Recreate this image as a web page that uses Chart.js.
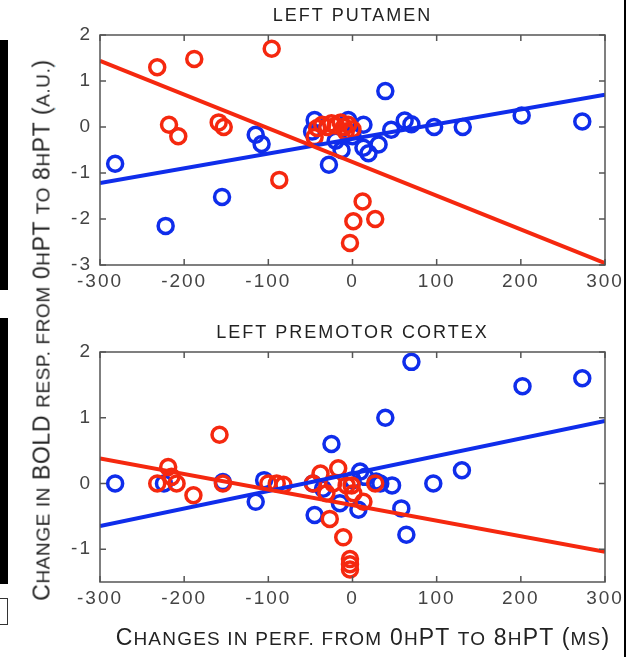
<!DOCTYPE html>
<html>
<head>
<meta charset="utf-8">
<script src="https://cdn.jsdelivr.net/npm/chart.js@4.4.1/dist/chart.umd.min.js"></script>
<style>
  body { margin: 0; background: #fff; width: 633px; height: 657px; position: relative; overflow: hidden;
         font-family: "Liberation Sans", Arial, sans-serif; }
  .wrap { position: absolute; left: 0; width: 633px; }
  #topWrap { top: 0; height: 310px; }
  #bottomWrap { top: 310px; height: 347px; }
  .axlabel { position: absolute; white-space: nowrap; font-size: 23px; letter-spacing: 1.2px; color: #222; }
  .axlabel .sc { font-size: 19px; }
  #ylabel { left: 42px; top: 330px; transform: translate(-50%, -50%) rotate(-90deg); letter-spacing: 0.6px; }
  #xlabel { left: 363px; top: 637px; transform: translate(-50%, -50%); }
  .deco { position: absolute; }
</style>
</head>
<body>
<div class="deco" style="left:0;top:40px;width:8px;height:250px;background:#000"></div>
<div class="deco" style="left:0;top:318px;width:8px;height:266px;background:#000"></div>
<div class="deco" style="left:0;top:598px;width:7px;height:25px;border:1px solid #333;border-left:none"></div>
<div class="deco" style="left:624px;top:0;width:2px;height:657px;background:#000"></div>

<div class="wrap" id="topWrap"><canvas id="chartPutamen"></canvas></div>
<div class="wrap" id="bottomWrap"><canvas id="chartPremotor"></canvas></div>
<div class="axlabel" id="ylabel">C<span class="sc">HANGE IN</span> BOLD <span class="sc">RESP. FROM</span> 0<span class="sc">H</span>PT <span class="sc">TO</span> 8<span class="sc">H</span>PT (<span class="sc">A.U.</span>)</div>
<div class="axlabel" id="xlabel">C<span class="sc">HANGES IN PERF. FROM</span> 0<span class="sc">H</span>PT <span class="sc">TO</span> 8<span class="sc">H</span>PT (<span class="sc">MS</span>)</div>

<script>
// x axis (ms), shared by both panels
const xTicks = [-300, -200, -100, 0, 100, 200, 300];
const fitX = [-300, 300];

// left putamen
const putamenBlueX = [-282, -222, -155, -115, -108, -48, -45, -28, -20, -13, -5, 0, 13, 13, 19, 31, 39, 46, 62, 70, 97, 131, 201, 273];
const putamenBlueY = [-0.8, -2.15, -1.52, -0.17, -0.37, -0.1, 0.15, -0.82, -0.3, -0.5, 0.15, -0.2, 0.05, -0.45, -0.57, -0.38, 0.78, -0.06, 0.14, 0.06, 0.0, 0.0, 0.25, 0.12];
const putamenRedX = [-232, -188, -96, -218, -207, -159, -153, -87, 12, 1, 27, -3, -42, -36, -30, -25, -20, -14, -10, -5, -8, -45, 0];
const putamenRedY = [1.3, 1.48, 1.7, 0.05, -0.2, 0.1, 0.0, -1.15, -1.62, -2.05, -2.0, -2.52, -0.02, 0.05, 0.0, 0.08, 0.03, 0.1, 0.0, 0.05, -0.1, -0.22, -0.05];
const putamenBlueFit = [-1.22, 0.70];
const putamenRedFit = [1.44, -2.96];
const putamenYTicks = [-3, -2, -1, 0, 1, 2];

// left premotor cortex
const premotorBlueX = [-282, -224, -154, -105, -115, -47, -45, -25, -35, -15, 0, 7, 9, 15, 28, 33, 39, 47, 58, 64, 70, 96, 130, 202, 273];
const premotorBlueY = [0, 0, 0.02, 0.05, -0.28, 0, -0.48, 0.6, -0.08, -0.3, 0.05, -0.4, 0.18, 0.1, 0.03, 0, 1.0, -0.03, -0.38, -0.78, 1.85, 0, 0.2, 1.48, 1.6];
const premotorRedX = [-232, -219, -215, -209, -189, -158, -154, -100, -90, -82, -47, -38, -31, -23, -17, -27, -11, -7, 1, -1, 13, 27, -3, -3, -3];
const premotorRedY = [0, 0.25, 0.1, 0, -0.18, 0.74, 0, 0, 0, -0.02, 0, 0.15, -0.15, 0, 0.23, -0.54, -0.82, -0.03, -0.15, -0.03, -0.28, 0, -1.15, -1.23, -1.31];
const premotorBlueFit = [-0.65, 0.95];
const premotorRedFit = [0.38, -1.04];
const premotorYTicks = [-1, 0, 1, 2];

const BLUE = 'rgb(15,45,235)';
const RED = 'rgb(245,40,15)';
const FONT = '"Liberation Sans", Arial, sans-serif';

function pts(xs, ys) {
    return xs.map((x, i) => ({x: x, y: ys[i]}));
}

// wider letter spacing, like the upscaled matlab text
const spacingPlugin = {
    id: 'spacing',
    beforeUpdate(chart) { chart.ctx.letterSpacing = '2px'; },
    beforeDraw(chart) { chart.ctx.letterSpacing = '2px'; }
};

// matlab style box with inward ticks
const framePlugin = {
    id: 'frame',
    afterDatasetsDraw(chart) {
        const {ctx, chartArea: a} = chart;
        const x = chart.scales.x, y = chart.scales.y;
        ctx.save();
        ctx.strokeStyle = '#555';
        ctx.lineWidth = 1.5;
        ctx.strokeRect(a.left, a.top, a.right - a.left, a.bottom - a.top);
        ctx.beginPath();
        x.ticks.forEach(t => {
            const px = x.getPixelForValue(t.value);
            ctx.moveTo(px, a.bottom); ctx.lineTo(px, a.bottom - 6);
            ctx.moveTo(px, a.top); ctx.lineTo(px, a.top + 6);
        });
        y.ticks.forEach(t => {
            const py = y.getPixelForValue(t.value);
            ctx.moveTo(a.left, py); ctx.lineTo(a.left + 6, py);
            ctx.moveTo(a.right, py); ctx.lineTo(a.right - 6, py);
        });
        ctx.stroke();
        ctx.restore();
    }
};

function makeChart(id, title, titlePad, d) {
    const ring = {
        type: 'scatter', showLine: false, pointStyle: 'circle',
        pointRadius: 7.5, pointBorderWidth: 3.5, pointBackgroundColor: 'rgba(0,0,0,0)'
    };
    const fit = {type: 'line', pointRadius: 0, borderWidth: 4, fill: false, tension: 0};
    return new Chart(document.getElementById(id), {
        data: {
            datasets: [
                Object.assign({}, fit, {data: pts(fitX, d.redFit), borderColor: RED}),
                Object.assign({}, fit, {data: pts(fitX, d.blueFit), borderColor: BLUE}),
                Object.assign({}, ring, {data: pts(d.redX, d.redY), pointBorderColor: RED}),
                Object.assign({}, ring, {data: pts(d.blueX, d.blueY), pointBorderColor: BLUE})
            ]
        },
        options: {
            responsive: true,
            maintainAspectRatio: false,
            animation: false,
            layout: {padding: {left: 0, right: 28, top: 0, bottom: 0}},
            plugins: {
                legend: {display: false},
                tooltip: {enabled: false},
                title: {
                    display: true, text: title, fullSize: false, color: '#222',
                    font: {family: FONT, size: 18, weight: 'normal', lineHeight: 1.2},
                    padding: titlePad
                }
            },
            scales: {
                x: {
                    type: 'linear', min: -300, max: 300,
                    afterBuildTicks: s => { s.ticks = xTicks.map(v => ({value: v})); },
                    afterFit: s => { s.height = d.xHeight; },
                    grid: {display: false, drawTicks: false},
                    border: {display: false},
                    ticks: {font: {family: FONT, size: 19}, color: '#444', padding: 5, maxRotation: 0}
                },
                y: {
                    type: 'linear', min: d.yMin, max: d.yMax,
                    afterBuildTicks: s => { s.ticks = d.yTicks.map(v => ({value: v})); },
                    afterFit: s => { s.width = 100; },
                    grid: {display: false, drawTicks: false},
                    border: {display: false},
                    ticks: {font: {family: FONT, size: 19}, color: '#444', padding: 8}
                }
            }
        },
        plugins: [spacingPlugin, framePlugin]
    });
}

document.addEventListener('DOMContentLoaded', function() {
    makeChart('chartPutamen', 'LEFT PUTAMEN', {top: 5, bottom: 8.4}, {
        blueX: putamenBlueX, blueY: putamenBlueY, redX: putamenRedX, redY: putamenRedY,
        blueFit: putamenBlueFit, redFit: putamenRedFit,
        yMin: -3, yMax: 2, yTicks: putamenYTicks, xHeight: 45
    });
    makeChart('chartPremotor', 'LEFT PREMOTOR CORTEX', {top: 12, bottom: 8.4}, {
        blueX: premotorBlueX, blueY: premotorBlueY, redX: premotorRedX, redY: premotorRedY,
        blueFit: premotorBlueFit, redFit: premotorRedFit,
        yMin: -1.5, yMax: 2, yTicks: premotorYTicks, xHeight: 75
    });
});
</script>
</body>
</html>
